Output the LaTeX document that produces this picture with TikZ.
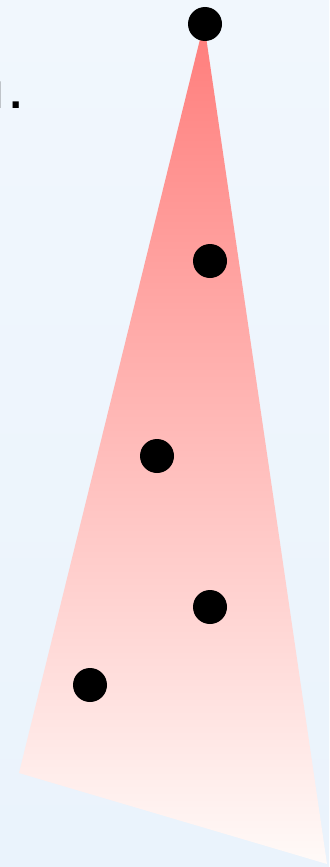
\documentclass[tikz,border=0pt]{standalone}
\usepackage{fontspec}
\setmainfont{DejaVu Sans}
\usetikzlibrary{positioning}
\definecolor{bgtop}{HTML}{F1F7FD}
\definecolor{bgbot}{HTML}{EAF3FC}
\definecolor{conetop}{HTML}{FF7D7B}
\definecolor{conebot}{HTML}{FFFAF8}
\tikzset{
  point/.style={circle,fill=black,minimum size=1.02cm,inner sep=0pt},
  cone/.style={top color=conetop,bottom color=conebot,draw=none},
}
\begin{document}
\begin{tikzpicture}[x=0.03cm,y=-0.03cm]

% background
\fill[top color=bgtop,bottom color=bgbot] (0,0) rectangle (329,867);
\useasboundingbox (0,0) rectangle (329,867);

\coordinate (apex) at (204,23);
\coordinate (bl) at (19,773);
\coordinate (br) at (327,864);

\shade[cone] (apex) -- (bl) -- (br) -- cycle;

\node[anchor=base east,inner sep=0pt,font=\fontsize{30}{34}\selectfont\bfseries] (txt) at (23,108) {d\kern5pt.};

\node[point] (p0) at (205,24) {};
\node[point] (p1) at (210,261) {};
\node[point] (p2) at (157,456) {};
\node[point] (p3) at (210,607) {};
\node[point] (p4) at (90,685) {};

\end{tikzpicture}
\end{document}
